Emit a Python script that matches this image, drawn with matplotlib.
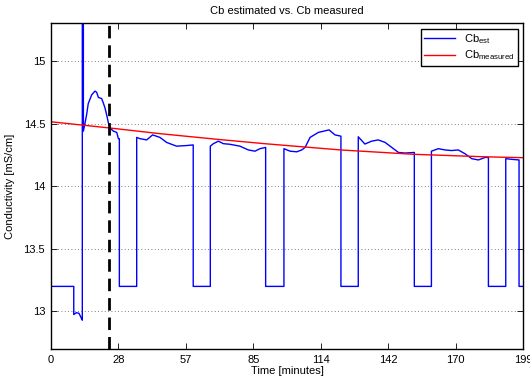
import numpy as np
import matplotlib
matplotlib.use("Agg")
import matplotlib.pyplot as plt

plt.rcParams['font.family'] = ['Liberation Sans', 'DejaVu Sans']
plt.rcParams['mathtext.default'] = 'regular'

# Estimated conductivity (time in minutes, value in mS/cm)
t_est = [0, 9.7, 9.7, 10.8, 11.9, 12.8, 13.3, 13.3, 13.75, 13.75, 14.45, 15.1, 15.8, 17.25,
         18.65, 19.35, 20.05, 21.45, 22.15, 22.85, 23.56, 24.3, 24.96, 26.4, 27.8, 28.5, 28.9,
         28.9, 36.2, 36.2, 37.6, 40.4, 42.9, 46.0, 48.8, 53.0, 57.2, 60.0,
         60.0, 67.2, 67.2, 68.5, 70.6, 72.7, 75.5, 79.7, 83.2, 86.0, 88.1, 90.5,
         90.5, 98.2, 98.2, 100.8, 103.6, 105.7, 107.1, 109.2, 112.7, 117.2, 119.7, 122.2,
         122.2, 129.5, 129.5, 132.3, 135.1, 137.9, 140.8, 143.6, 146.4, 149.2, 153.1,
         153.1, 160.3, 160.3, 163.2, 166.0, 168.8, 171.6, 174.4, 177.3, 180.1, 182.9, 184.3,
         184.3, 191.6, 191.6, 194.1, 197.2, 197.2, 199.0]
cb_est = [13.2, 13.2, 12.975, 12.99, 12.985, 12.95, 12.93, 16.5, 16.5, 14.44, 14.505, 14.57, 14.66, 14.73,
          14.76, 14.75, 14.71, 14.70, 14.665, 14.625, 14.57, 14.505, 14.465, 14.44, 14.43, 14.38, 14.38,
          13.2, 13.2, 14.39, 14.38, 14.37, 14.41, 14.39, 14.35, 14.32, 14.325, 14.33,
          13.2, 13.2, 14.32, 14.34, 14.36, 14.34, 14.335, 14.32, 14.29, 14.28, 14.30, 14.31,
          13.2, 13.2, 14.30, 14.28, 14.275, 14.29, 14.31, 14.39, 14.43, 14.45, 14.41, 14.40,
          13.2, 13.2, 14.395, 14.337, 14.36, 14.37, 14.35, 14.31, 14.27, 14.265, 14.27,
          13.2, 13.2, 14.28, 14.30, 14.29, 14.285, 14.29, 14.26, 14.22, 14.21, 14.23, 14.23,
          13.2, 13.2, 14.22, 14.215, 14.21, 13.2, 13.2]

# Measured conductivity
t_meas = [0, 25, 46, 70, 90, 122, 153, 183, 199]
cb_meas = [14.515, 14.465, 14.42, 14.375, 14.34, 14.29, 14.255, 14.235, 14.228]

t_mark = 24.7
x_ticks = np.linspace(0, 199, 8)
x_tick_labels = ['0', '28', '57', '85', '114', '142', '170', '199']
y_ticks = [13, 13.5, 14, 14.5, 15]
y_tick_labels = ['13', '13.5', '14', '14.5', '15']

fig = plt.figure(figsize=(5.3, 3.8), dpi=100)
ax = fig.add_axes([0.0957, 0.0816, 0.8917, 0.8566])

ax.plot(t_est, cb_est, color='#0000ff', lw=1.0, label=r'Cb$_{est}$')
ax.plot(t_meas, cb_meas, color='#ff0000', lw=1.0, label=r'Cb$_{measured}$')
ax.axvline(t_mark, color='black', lw=2.0, ls=(0, (4.5, 2.5)))

ax.set_xlim(0, 199)
ax.set_ylim(12.7, 15.3)
ax.set_xticks(x_ticks)
ax.set_xticklabels(x_tick_labels)
ax.set_yticks(y_ticks)
ax.set_yticklabels(y_tick_labels)
ax.tick_params(direction='in', top=True, right=True, labelsize=8, length=4, width=0.6, pad=4)
ax.yaxis.grid(True, ls=(0, (1, 3)), color='#555555', lw=0.6)
for s in ax.spines.values():
    s.set_linewidth(1.0)

ax.set_title('Cb estimated vs. Cb measured', fontsize=8, pad=7)
ax.set_xlabel('Time [minutes]', fontsize=8, labelpad=1)
ax.set_ylabel('Conductivity [mS/cm]', fontsize=8, labelpad=6)

leg = ax.legend(loc='upper right', fontsize=8, fancybox=False, framealpha=1,
                edgecolor='black', borderaxespad=0.5, handlelength=2.8,
                labelspacing=0.2, borderpad=0.3)
leg.get_frame().set_linewidth(1.0)

fig.savefig('out.png', dpi=100)
